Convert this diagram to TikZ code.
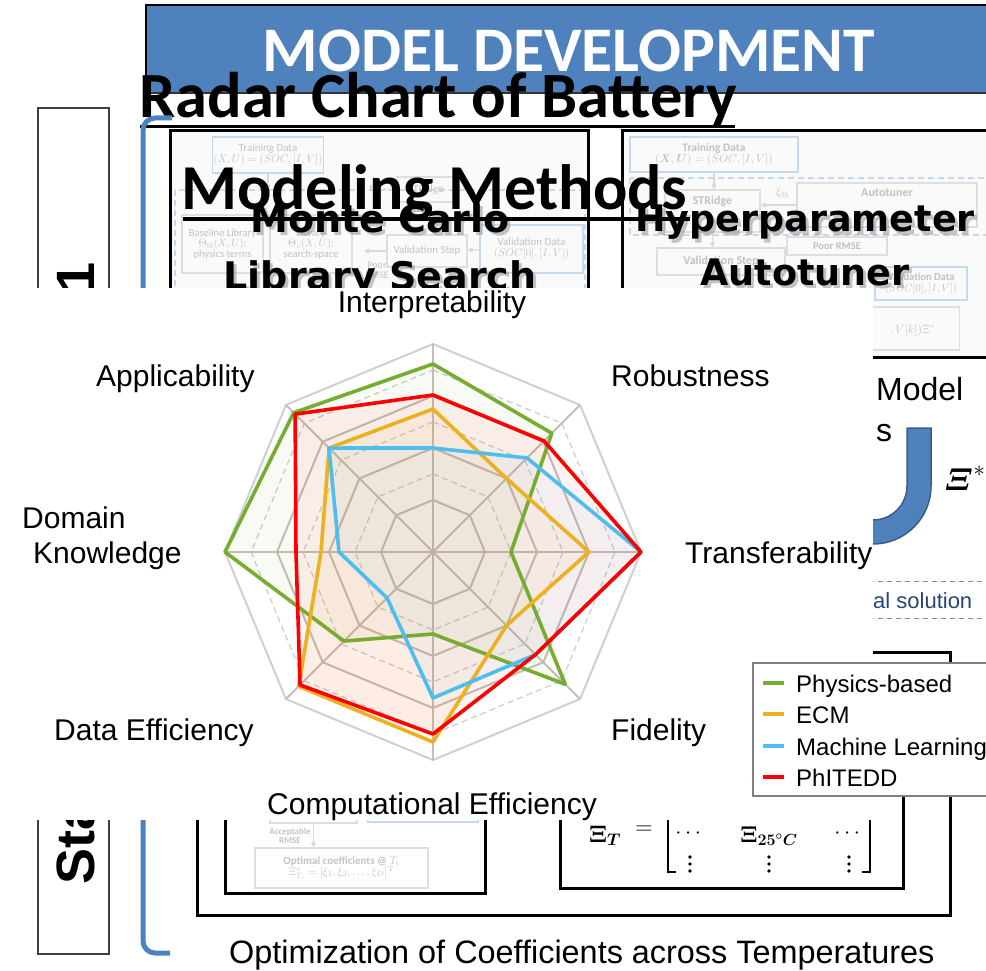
\RequirePackage{fix-cm}
\documentclass[tikz,border=0pt]{standalone}
\usepackage{amsmath}
\usepackage[no-math]{fontspec}
\setmainfont{Liberation Sans}
\newfontfamily\carlito{Carlito}
\newfontfamily\dejavu{DejaVu Sans}
\usetikzlibrary{arrows.meta}

\definecolor{hdrblue}{RGB}{79,129,189}
\definecolor{hdredge}{RGB}{56,93,138}
\definecolor{physgreen}{RGB}{119,172,48}
\definecolor{ecmorange}{RGB}{237,177,32}
\definecolor{mlblue}{RGB}{77,190,238}
\definecolor{phred}{RGB}{255,0,0}
\definecolor{spokegray}{RGB}{196,190,184}
\definecolor{ringout}{RGB}{208,208,208}
\definecolor{ringdash}{RGB}{204,204,204}
\definecolor{paleblue}{RGB}{197,217,241}
\definecolor{solblue}{RGB}{38,68,120}
\definecolor{dashblue}{RGB}{110,140,190}

\newcommand\fsize[1]{\fontsize{#1}{#1}\selectfont}

\begin{document}
\begin{tikzpicture}[x=1pt, y=-1pt,
  frame/.style={draw=black, line width=3pt},
  fbox/.style={draw=black!13, line width=1.2pt, inner sep=1pt, align=center,
    text=black!24, font=\carlito\fsize{11}},
  fboxb/.style={fbox, draw=paleblue},
  ftext/.style={inner sep=0pt, align=center, text=black!24, font=\carlito\fsize{11}},
  farrow/.style={draw=black!15, line width=1.2pt, -{Triangle[length=5pt,width=5pt]}},
  axislabel/.style={anchor=base west, inner sep=0pt, font=\fsize{30}},
  legtext/.style={anchor=base west, inner sep=0pt, font=\fsize{24}},
  series/.style={line width=3.6pt, line join=round},
  bigtitle/.style={anchor=base, inner sep=0pt, font=\dejavu\bfseries\fsize{38}},
  bigshadow/.style={bigtitle, text=black!45, opacity=0.5},
  mtx/.style={inner sep=0pt, font=\fsize{22}},
]
\useasboundingbox (0,0) rectangle (986,971);
\clip (0,0) rectangle (986,971);

% ---------- header bar ----------
\fill[hdrblue] (146,5) rectangle (1000,93);
\draw[black, line width=1.5pt] (146,93) -- (146,5) -- (1000,5);
\draw[black!80, line width=1.2pt] (146,93) -- (1000,93);
\node[anchor=base, inner sep=0pt, text=white, font=\carlito\bfseries\fsize{63.5}] (hdr) at (569,72) {MODEL DEVELOPMENT};

% ---------- panel frames ----------
\fill[black!2] (170,131) rectangle (588,640);
\fill[black!2] (622,131) rectangle (1000,357);
\draw[frame] (170,131) rectangle (588,640);
\draw[frame] (622,131) rectangle (1000,357);
\draw[frame] (197,652) rectangle (950,915);
\draw[frame] (225,700) rectangle (485,893);
\draw[frame] (560,700) rectangle (903,888);

% ---------- faint flowchart: library search ----------
\draw[draw=paleblue, line width=1.2pt, dashed, dash pattern=on 6pt off 4pt] (175,190) rectangle (585,330);
\node[fboxb, minimum width=103pt, minimum height=36pt] (mcTrain) at (268,155) {Training Data\\$(X,U) = (SOC,[I,V])$};
\node[fbox, minimum width=81pt, minimum height=58pt, font=\carlito\fsize{10.5}] (mcBase) at (222.5,244) {Baseline Library\\$\Theta_{bl}(X,U)$:\\physics terms};
\node[fbox, minimum width=82pt, minimum height=58pt, font=\carlito\fsize{10.5}] (mcExt) at (311,244) {Library\\$\Theta_{e}(X,U)$:\\search-space};
\node[ftext] (mcTheta) at (376,189) {$\Theta_e$};
\node[fbox, minimum width=58pt, minimum height=25pt] (mcSTR) at (426,189.5) {STRidge};
\node[fbox, minimum width=80pt, minimum height=32pt] (mcVal) at (427,251) {Validation Step};
\node[fboxb, minimum width=103pt, minimum height=48pt] (mcVData) at (531.5,249) {Validation Data\\$(SOC[0],[I,V])$};
\node[ftext, font=\carlito\fsize{10}] (mcPoor) at (377,270) {Poor\\RMSE};
\coordinate (mcPoorEnd) at (364,251);
\coordinate (mcTrainEnd) at (268,190);
\draw[farrow] (mcVData) -- (mcVal);
\draw[farrow] (mcVal) -- (mcPoorEnd);
\draw[farrow] (mcTheta) -- (mcSTR);
\draw[farrow] (mcTrain) -- (mcTrainEnd);

% ---------- faint flowchart: autotuner ----------
\draw[draw=paleblue, line width=1.2pt, dashed, dash pattern=on 6pt off 4pt] (630,178) rectangle (995,235);
\node[fboxb, minimum width=168pt, minimum height=35pt, font=\carlito\bfseries\fsize{11.5}] (hpTrain) at (714,154.5) {Training Data\\$(\boldsymbol{X},\boldsymbol{U}) = (SOC,[I,V])$};
\node[fbox, minimum width=95pt, minimum height=42pt, font=\carlito\bfseries\fsize{12}] (hpSTR) at (712.5,211) {STRidge\\[10pt]};
\node[ftext, font=\fsize{12}] (hpXi) at (783,193) {$\xi_{th}$};
\node[fbox, minimum width=180pt, minimum height=44pt, font=\carlito\bfseries\fsize{12}] (hpAuto) at (887,205) {Autotuner\\[12pt]};
\node[fbox, minimum width=100pt, minimum height=18pt, font=\carlito\bfseries\fsize{10.5}] (hpPoor) at (837,246) {Poor RMSE};
\node[fbox, minimum width=128pt, minimum height=27pt, font=\carlito\bfseries\fsize{12}] (hpVal) at (721,261.5) {Validation Step};
\node[fboxb, minimum width=92pt, minimum height=33pt, font=\carlito\bfseries\fsize{10.5}] (hpVData) at (921,283.5) {Validation Data\\$(SOC[0],[I,V])$};
\node[fbox, minimum width=185pt, minimum height=43pt] (hpOut) at (867,328.5) {};
\node[ftext, anchor=east, font=\fsize{12}] (hpOutTxt) at (935,330) {$,V[k])\Xi^{*}$};
\draw[farrow] (hpTrain) -- (hpTrain.south |- hpSTR.north);
\draw[farrow] (hpAuto.west) -- (hpAuto.west -| hpSTR.east);
\draw[farrow] (hpSTR) -- (hpSTR.south |- hpVal.north);

% ---------- faint flowchart: optimal coefficients ----------
\node[fbox, minimum width=87pt, minimum height=34pt] (ocPrev) at (313.5,806) {};
\node[fboxb, minimum width=110pt, minimum height=32pt] (ocPrevB) at (423,806) {};
\node[ftext, font=\carlito\bfseries\fsize{9}] (ocAcc) at (290,836) {Acceptable\\RMSE};
\node[fbox, minimum width=173pt, minimum height=40pt, font=\carlito\bfseries\fsize{11}] (ocOpt) at (341.5,868) {Optimal coefficients @ $T_i$\\$\Xi^{*}_{T_i} = [\xi_1,\xi_2,\ldots,\xi_D]^{\mathrm{T}}$};
\draw[farrow] (ocPrev) -- (ocPrev.south |- ocOpt.north);

% ---------- coefficient matrix ----------
\node[mtx, anchor=base west, font=\fsize{24}] (xiT) at (589,842) {$\boldsymbol{\Xi}_{\boldsymbol{T}}$};
\node[mtx, font=\fsize{24}] (eqsign) at (644,830) {$=$};
\draw[line width=2pt] (676,790) -- (668,790) -- (668,872) -- (676,872);
\draw[line width=2pt] (862,790) -- (870,790) -- (870,872) -- (862,872);
\node[mtx] (mc1) at (690,834) {$\cdots$};
\node[mtx, anchor=base, font=\fsize{23}] (mc2) at (769,842) {$\boldsymbol{\Xi}_{\boldsymbol{25^{\circ}C}}$};
\node[mtx] (mc3) at (849,834) {$\cdots$};
% vertical ellipses of the lower row
\foreach \cx in {690,769,849}
  \foreach \cy in {857,864,871}
    \fill[black] (\cx,\cy) circle[radius=1.9];

\node[anchor=base west, inner sep=0pt, font=\fsize{32.4}] (optcap) at (229,963) {Optimization of Coefficients across Temperatures};

% ---------- method titles ----------
\node[bigshadow] (mcA-sh) at (383,236) {Monte Carlo};
\node[bigtitle] (mcA) at (380,233) {Monte Carlo};
\node[bigshadow] (mcB-sh) at (383,292) {Library Search};
\node[bigtitle] (mcB) at (380,289) {Library Search};
\node[bigshadow, font=\dejavu\bfseries\fsize{36.5}] (hpA-sh) at (808,235) {Hyperparameter};
\node[bigtitle, font=\dejavu\bfseries\fsize{36.5}] (hpA) at (805,232) {Hyperparameter};
\node[bigshadow, font=\dejavu\bfseries\fsize{36.5}] (hpB-sh) at (808,288) {Autotuner};
\node[bigtitle, font=\dejavu\bfseries\fsize{36.5}] (hpB) at (805,285) {Autotuner};

% ---------- chart title ----------
\node[anchor=base west, inner sep=0pt, font=\carlito\bfseries\fsize{64.5}] (ttlA) at (139,118) {Radar Chart of Battery};
\draw[line width=3pt] (140,127) -- (735,127);
\node[anchor=base west, inner sep=0pt, font=\carlito\bfseries\fsize{64}] (ttlB) at (181,210) {Modeling Methods};
\draw[line width=3pt] (183,219) -- (690,219);

% ---------- stage box and bracket ----------
\draw[draw=black!75, line width=1.3pt] (38,108) rectangle (109,954);
\node[rotate=90, anchor=base west, inner sep=0pt, font=\bfseries\fsize{54}] (stage) at (94,885) {Stage\hspace{445pt}1};
\draw[hdrblue, line width=5pt, rounded corners=12pt] (172,118) -- (143,118) -- (143,953) -- (170,953);

% ---------- right-hand fragments ----------
\node[anchor=base west, inner sep=0pt, font=\fsize{32}] (mdl) at (876,400) {Model};
\node[anchor=base west, inner sep=0pt, font=\fsize{32}] (mdls) at (876,441) {s};
\draw[fill=hdrblue, draw=hdredge, line width=1.5pt]
  (907,428) -- (907,486) arc[start angle=0, end angle=90, radius=34]
  -- (850,520) -- (850,544) -- (873,544)
  arc[start angle=90, end angle=0, radius=58] -- (931,428) -- cycle;
\node[anchor=base west, inner sep=0pt, font=\fsize{32}] (xistar) at (944,490) {$\boldsymbol{\varXi}^{*}$};
\draw[dashblue, line width=1pt, dashed, dash pattern=on 5pt off 4pt] (860,581) -- (995,581);
\draw[dashblue, line width=1pt, dashed, dash pattern=on 5pt off 4pt] (860,618) -- (995,618);
\node[anchor=base west, inner sep=0pt, text=solblue, font=\fsize{22}] (sol) at (873,608) {al solution};

% ---------- radar chart panel ----------
\fill[white] (33,288) rectangle (873,820);

\begin{scope}[shift={(433,552)}, yscale=-1]
  % grid
  \foreach \r in {78,130,182}
    \draw[ringdash, line width=1.2pt, dash pattern=on 6pt off 4pt]
      (90:\r) \foreach \a in {45,0,-45,-90,-135,180,135}{ -- (\a:\r)} -- cycle;
  \foreach \r in {52,104,156}
    \draw[spokegray, line width=2pt]
      (90:\r) \foreach \a in {45,0,-45,-90,-135,180,135}{ -- (\a:\r)} -- cycle;
  \draw[ringout, line width=2pt]
      (90:208) \foreach \a in {45,0,-45,-90,-135,180,135}{ -- (\a:208)} -- cycle;
  \foreach \a in {90,45,0,-45,-90,-135,180,135}
    \draw[spokegray, line width=2pt] (0,0) -- (\a:208);
  % translucent areas
  \fill[physgreen, fill opacity=.05] (90:188) -- (45:168) -- (0:78) -- (-45:187) -- (-90:82) -- (-135:126) -- (180:208) -- (135:197) -- cycle;
  \fill[ecmorange, fill opacity=.06] (90:143) -- (45:104) -- (0:156) -- (-45:104) -- (-90:190) -- (-135:190) -- (180:112) -- (135:147) -- cycle;
  \fill[mlblue, fill opacity=.05] (90:104) -- (45:133) -- (0:208) -- (-45:145) -- (-90:146) -- (-135:65) -- (180:94) -- (135:147) -- cycle;
  \fill[phred, fill opacity=.05] (90:157) -- (45:157) -- (0:208) -- (-45:145) -- (-90:182) -- (-135:188) -- (180:137) -- (135:195) -- cycle;
  % series outlines
  \draw[series, physgreen] (90:188) -- (45:168) -- (0:78) -- (-45:187) -- (-90:82) -- (-135:126) -- (180:208) -- (135:197) -- cycle;
  \draw[series, ecmorange] (90:143) -- (45:104) -- (0:156) -- (-45:104) -- (-90:190) -- (-135:190) -- (180:112) -- (135:147) -- cycle;
  \draw[series, mlblue] (90:104) -- (45:133) -- (0:208) -- (-45:145) -- (-90:146) -- (-135:65) -- (180:94) -- (135:147) -- cycle;
  \draw[series, phred] (90:157) -- (45:157) -- (0:208) -- (-45:145) -- (-90:182) -- (-135:188) -- (180:137) -- (135:195) -- cycle;
\end{scope}

% axis labels
\node[axislabel, anchor=base] (lInt) at (432,312) {Interpretability};
\node[axislabel] (lRob) at (611,386) {Robustness};
\node[axislabel] (lTra) at (685,563) {Transferability};
\node[axislabel] (lFid) at (611,740) {Fidelity};
\node[axislabel] (lCom) at (267,814) {Computational Efficiency};
\node[axislabel] (lDat) at (54,740) {Data Efficiency};
\node[axislabel] (lDom) at (22,528) {Domain};
\node[axislabel] (lKno) at (33,563) {Knowledge};
\node[axislabel] (lApp) at (96,386) {Applicability};

% legend
\draw[fill=white, draw=black!50, line width=1.3pt] (753,663) rectangle (1000,796);
\draw[physgreen, line width=4pt] (763,683) -- (784,683);
\draw[ecmorange, line width=4pt] (763,714) -- (784,714);
\draw[mlblue, line width=4pt] (763,746) -- (784,746);
\draw[phred, line width=4pt] (763,777) -- (784,777);
\node[legtext] (legA) at (796,692) {Physics-based};
\node[legtext] (legB) at (796,723) {ECM};
\node[legtext] (legC) at (796,755) {Machine Learning};
\node[legtext] (legD) at (796,786) {PhITEDD};
\end{tikzpicture}
\end{document}
